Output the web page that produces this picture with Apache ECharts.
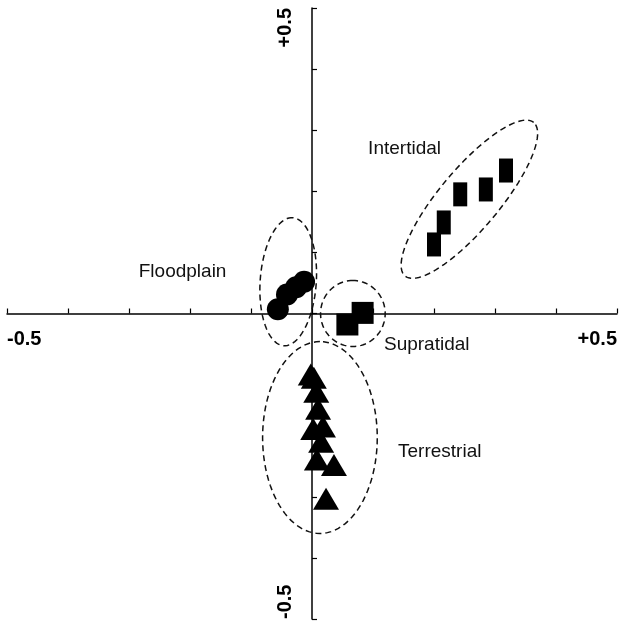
<!DOCTYPE html>
<html>
<head>
<meta charset="utf-8">
<script src="https://cdn.jsdelivr.net/npm/echarts@6/dist/echarts.min.js"></script>
<style>
  html, body { margin: 0; padding: 0; background: #fff; }
  #chart { width: 619px; height: 624px; }
</style>
</head>
<body>
<div id="chart"></div>
<script>
// Ordination scores (axis 1, axis 2) per sample, grouped by depositional setting
const floodplain = [[-0.056, 0.007], [-0.041, 0.031], [-0.026, 0.043], [-0.013, 0.052]];
const supratidal = [[0.058, -0.018], [0.083, 0.001]];
const intertidal = [[0.200, 0.113], [0.216, 0.149], [0.243, 0.195], [0.285, 0.203], [0.318, 0.234]];
const terrestrial = [
  [-0.002, -0.100], [0.003, -0.105], [0.007, -0.128], [0.010, -0.156], [0.002, -0.189],
  [0.018, -0.185], [0.015, -0.210], [0.008, -0.239], [0.036, -0.248], [0.023, -0.303]
];

const groupNames = ['Floodplain', 'Supratidal', 'Intertidal', 'Terrestrial'];
const endLabels = { min: '-0.5', max: '+0.5' };

// Dashed group envelopes: centre x, centre y, semi-major, semi-minor, major-axis angle (deg)
const envelopes = [
  [-0.039, 0.052, 0.105, 0.046, 86],
  [0.067, 0.000, 0.054, 0.053, 90],
  [0.258, 0.187, 0.164, 0.049, 50],
  [0.013, -0.203, 0.157, 0.094, 90]
];
// Where each group name sits (left edge, middle of text)
const namePositions = [[-0.284, 0.069], [0.118, -0.051], [0.092, 0.270], [0.141, -0.226]];

const W = 619, H = 624;
const GRID = { left: 7, right: 2, top: 8, bottom: 5 };
// both axes run symmetrically about zero, so the crossing sits at the middle of the grid
const xAxisShift = -(H - GRID.top - GRID.bottom) / 2;
const yAxisShift = -(W - GRID.left - GRID.right) / 2;

const chart = echarts.init(document.getElementById('chart'), null, { renderer: 'canvas' });

const INK = '#000';
const tickFont = { fontFamily: '"Liberation Sans", Arial, sans-serif', fontWeight: 'bold', fontSize: 20, color: INK };

function endLabel(v) {
  if (Math.abs(v + 0.5) < 1e-6) return endLabels.min;
  if (Math.abs(v - 0.5) < 1e-6) return endLabels.max;
  return '';
}

function ellipseItem(params, api) {
  const cx = api.value(0), cy = api.value(1), a = api.value(2), b = api.value(3);
  const t = api.value(4) * Math.PI / 180;
  const pts = [];
  for (let i = 0; i < 96; i++) {
    const s = i / 96 * Math.PI * 2;
    const ex = a * Math.cos(s), ey = b * Math.sin(s);
    pts.push(api.coord([cx + ex * Math.cos(t) - ey * Math.sin(t), cy + ex * Math.sin(t) + ey * Math.cos(t)]));
  }
  return {
    type: 'polygon',
    shape: { points: pts },
    style: { fill: 'none', stroke: '#111', lineWidth: 1.5, lineDash: [6, 4] }
  };
}

function nameItem(params, api) {
  const p = api.coord([api.value(0), api.value(1)]);
  return {
    type: 'text',
    x: p[0], y: p[1],
    style: {
      text: groupNames[params.dataIndex],
      fill: '#111',
      font: '19px "Liberation Sans", Arial, sans-serif',
      textAlign: 'left',
      textVerticalAlign: 'middle'
    }
  };
}

const labelBase = {
  show: true, showMinLabel: true, showMaxLabel: true, hideOverlap: false,
  formatter: endLabel, alignMinLabel: 'left', alignMaxLabel: 'right'
};

const option = {
  animation: false,
  backgroundColor: '#fff',
  grid: Object.assign({ containLabel: false, outerBoundsMode: 'none' }, GRID),
  xAxis: {
    type: 'value', min: -0.5, max: 0.5, interval: 0.1,
    position: 'bottom', offset: xAxisShift,
    axisLine: { onZero: false, lineStyle: { color: INK, width: 1.5 } },
    axisTick: { show: true, inside: true, length: 5, lineStyle: { color: INK, width: 1.2 } },
    splitLine: { show: false },
    axisLabel: Object.assign({ margin: 16 }, labelBase, tickFont)
  },
  yAxis: {
    type: 'value', min: -0.5, max: 0.5, interval: 0.1,
    position: 'left', offset: yAxisShift,
    axisLine: { onZero: false, lineStyle: { color: INK, width: 1.5 } },
    axisTick: { show: true, inside: true, length: 5, lineStyle: { color: INK, width: 1.2 } },
    splitLine: { show: false },
    axisLabel: Object.assign({ margin: 17, rotate: 90 }, labelBase, tickFont)
  },
  series: [
    { type: 'custom', name: 'envelopes', data: envelopes, renderItem: ellipseItem, z: 1, silent: true, encode: { x: 0, y: 1 } },
    { type: 'custom', name: 'names', data: namePositions, renderItem: nameItem, z: 1, silent: true, encode: { x: 0, y: 1 } },
    { type: 'scatter', name: 'Floodplain', data: floodplain, symbol: 'circle', symbolSize: 22, itemStyle: { color: INK, opacity: 1 }, z: 3 },
    { type: 'scatter', name: 'Supratidal', data: supratidal, symbol: 'rect', symbolSize: 22, itemStyle: { color: INK, opacity: 1 }, z: 3 },
    { type: 'scatter', name: 'Intertidal', data: intertidal, symbol: 'rect', symbolSize: [14, 24], itemStyle: { color: INK, opacity: 1 }, z: 3 },
    { type: 'scatter', name: 'Terrestrial', data: terrestrial, symbol: 'triangle', symbolSize: [26, 22], itemStyle: { color: INK, opacity: 1 }, z: 3 }
  ]
};

chart.setOption(option);
</script>
</body>
</html>
